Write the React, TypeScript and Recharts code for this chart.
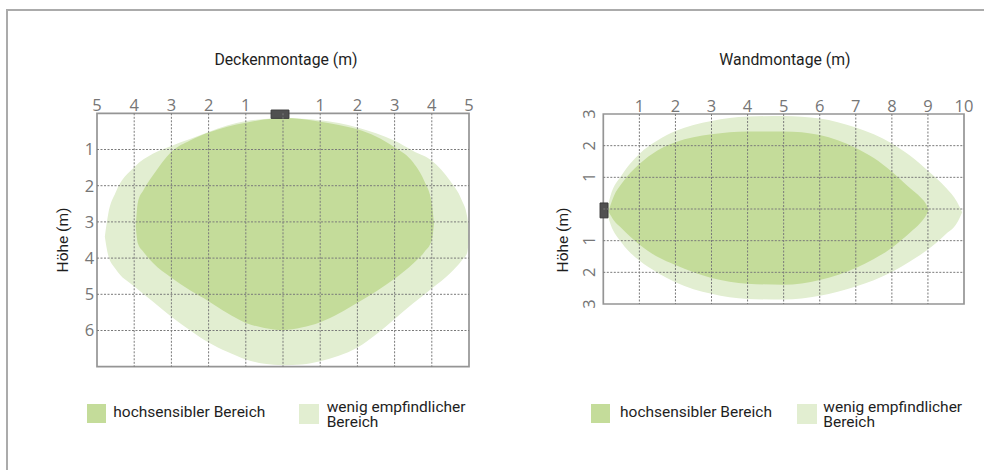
import React from 'react';
import { ComposedChart, Area, XAxis, YAxis, ReferenceLine, ReferenceArea } from 'recharts';

const W = 984;
const H = 470;

// ---------- Deckenmontage (ceiling mount) ----------
const ceilXTicks = [-5, -4, -3, -2, -1, 1, 2, 3, 4, 5];
const ceilYTicks = [1, 2, 3, 4, 5, 6];
const ceilGridX = [-4, -3, -2, -1, 0, 1, 2, 3, 4];
const ceilGridY = [1, 2, 3, 4, 5, 6];

const ceilHighX = [-3.96, -3.9, -3.75, -3.5, -3, -2.5, -2, -1.5, -1, -0.5, 0, 0.5, 1, 1.5, 2, 2.5, 3, 3.5, 3.8, 4.0, 4.06];
const ceilHighTop = [3.13, 2.45, 2.12, 1.72, 1.06, 0.75, 0.53, 0.37, 0.26, 0.17, 0.13, 0.16, 0.23, 0.32, 0.44, 0.64, 0.94, 1.36, 1.88, 2.49, 3.04];
const ceilHighBottom = [3.13, 3.6, 3.83, 4.13, 4.54, 4.89, 5.19, 5.52, 5.79, 5.93, 5.99, 5.92, 5.77, 5.53, 5.23, 4.92, 4.57, 4.15, 3.83, 3.5, 3.04];

const ceilLowX = [-4.79, -4.7, -4.5, -4, -3.5, -3, -2.5, -2, -1.5, -1, -0.5, 0, 0.5, 1, 1.5, 2, 2.5, 3, 3.5, 4, 4.5, 4.8, 4.95, 5.0];
const ceilLowTop = [3.41, 2.79, 2.19, 1.49, 1.12, 0.9, 0.71, 0.52, 0.34, 0.21, 0.16, 0.12, 0.15, 0.19, 0.27, 0.39, 0.55, 0.76, 1.04, 1.31, 1.88, 2.39, 2.85, 3.4];
const ceilLowBottom = [3.41, 3.92, 4.3, 4.78, 5.2, 5.62, 5.99, 6.33, 6.59, 6.8, 6.92, 6.96, 6.94, 6.85, 6.7, 6.47, 6.11, 5.68, 5.25, 4.84, 4.41, 4.07, 3.85, 3.4];

const ceilSensor = [-0.32, 0.16, -0.09, 0.14];

// ---------- Wandmontage (wall mount) ----------
const wallXTicks = [1, 2, 3, 4, 5, 6, 7, 8, 9, 10];
const wallYTicks = [-3, -2, -1, 1, 2, 3];
const wallGridX = [1, 2, 3, 4, 5, 6, 7, 8, 9];
const wallGridY = [-2, -1, 0, 1, 2];

const wallHighX = [0.14, 0.3, 0.5, 1, 1.5, 2, 3, 4, 5, 6, 7, 7.5, 8, 8.5, 8.8, 8.95, 9.02];
const wallHighTop = [-0.08, 0.43, 0.79, 1.42, 1.85, 2.11, 2.36, 2.45, 2.45, 2.34, 1.93, 1.61, 1.18, 0.66, 0.36, 0.15, -0.03];
const wallHighBottom = [-0.08, -0.37, -0.6, -1.12, -1.51, -1.77, -2.18, -2.36, -2.39, -2.24, -1.86, -1.58, -1.22, -0.75, -0.43, -0.2, -0.03];

const wallLowX = [0.09, 0.2, 0.5, 1, 1.5, 2, 3, 4, 5, 6, 7, 8, 8.5, 9, 9.5, 9.8, 9.95];
const wallLowTop = [-0.08, 0.42, 1.05, 1.74, 2.16, 2.46, 2.78, 2.92, 2.94, 2.86, 2.57, 2.07, 1.69, 1.21, 0.67, 0.24, -0.1];
const wallLowBottom = [-0.08, -0.48, -1.05, -1.63, -2.01, -2.31, -2.68, -2.84, -2.86, -2.74, -2.45, -1.99, -1.66, -1.28, -0.79, -0.45, -0.1];

const wallSensor = [-0.09, 0.13, -0.28, 0.19];

// ---------- texts ----------
const panelTitles = ['Deckenmontage (m)', 'Wandmontage (m)'];
const axisTitle = 'Höhe (m)';
const legendLabels = ['hochsensibler Bereich', 'wenig empfindlicher Bereich'];

const HIGH_COLOR = '#c4dc9a';
const LOW_COLOR = '#e2eed1';
const TICK_COLOR = '#767676';
const GRID_COLOR = '#7a7a7a';
const FRAME_COLOR = '#959595';

const toRange = (xs: number[], a: number[], b: number[]) => xs.map((x, i) => ({ x, r: [a[i], b[i]] }));

type Cfg = {
  xDomain: [number, number];
  yDomain: [number, number];
  yReversed: boolean;
  margin: { top: number; left: number; right: number; bottom: number };
  xTicks: number[];
  yTicks: number[];
  gridX: number[];
  gridY: number[];
  high: { x: number; r: number[] }[];
  low: { x: number; r: number[] }[];
  sensor: number[];
  rotateY: boolean;
  yTickMargin: number;
};

const ceilCfg: Cfg = {
  xDomain: [-5, 5],
  yDomain: [0, 7],
  yReversed: true,
  margin: { top: 93.3, left: 67, right: W - 469, bottom: H - 366.7 },
  xTicks: ceilXTicks,
  yTicks: ceilYTicks,
  gridX: ceilGridX,
  gridY: ceilGridY,
  high: toRange(ceilHighX, ceilHighTop, ceilHighBottom),
  low: toRange(ceilLowX, ceilLowTop, ceilLowBottom),
  sensor: ceilSensor,
  rotateY: false,
  yTickMargin: 7.5,
};

const wallCfg: Cfg = {
  xDomain: [0, 10],
  yDomain: [-3, 3],
  yReversed: false,
  margin: { top: 94, left: 573.3, right: W - 964, bottom: H - 304 },
  xTicks: wallXTicks,
  yTicks: wallYTicks,
  gridX: wallGridX,
  gridY: wallGridY,
  high: toRange(wallHighX, wallHighTop, wallHighBottom),
  low: toRange(wallLowX, wallLowTop, wallLowBottom),
  sensor: wallSensor,
  rotateY: true,
  yTickMargin: 8,
};

const tickFont = { fontFamily: 'Open Sans, sans-serif', fontSize: 16.5, fill: TICK_COLOR };

const XTick = (props: any) => {
  const { x, y, payload } = props;
  return (
    <text x={x} y={y} textAnchor="middle" {...tickFont}>
      {Math.abs(payload.value)}
    </text>
  );
};

const YTickPlain = (props: any) => {
  const { x, y, payload } = props;
  return (
    <text x={x} y={y} dy="0.36em" textAnchor="middle" {...tickFont}>
      {Math.abs(payload.value)}
    </text>
  );
};

const YTickRot = (props: any) => {
  const { x, y, payload } = props;
  return (
    <text x={x} y={y} textAnchor="middle" transform={`rotate(-90, ${x}, ${y})`} {...tickFont}>
      {Math.abs(payload.value)}
    </text>
  );
};

function Layer({ cfg, data, showTicks, children }: { cfg: Cfg; data?: any[]; showTicks: boolean; children?: React.ReactNode }) {
  return (
    <div style={{ position: 'absolute', left: 0, top: 0 }}>
      <ComposedChart width={W} height={H} margin={cfg.margin} data={data}>
        <XAxis
          type="number"
          dataKey="x"
          domain={cfg.xDomain}
          allowDataOverflow
          orientation="top"
          ticks={cfg.xTicks}
          interval={0}
          height={20}
          axisLine={false}
          tickLine={false}
          tickSize={0}
          tickMargin={2}
          tick={showTicks ? <XTick /> : false}
        />
        <YAxis
          type="number"
          domain={cfg.yDomain}
          reversed={cfg.yReversed}
          allowDataOverflow
          ticks={cfg.yTicks}
          interval={0}
          width={30}
          axisLine={false}
          tickLine={false}
          tickSize={0}
          tickMargin={cfg.yTickMargin}
          tick={showTicks ? (cfg.rotateY ? <YTickRot /> : <YTickPlain />) : false}
        />
        {children}
      </ComposedChart>
    </div>
  );
}

function Panel({ cfg }: { cfg: Cfg }) {
  const [sx1, sx2, sy1, sy2] = cfg.sensor;
  return (
    <>
      <Layer cfg={cfg} data={cfg.low} showTicks={false}>
        <Area type="monotone" dataKey="r" stroke="none" fill={LOW_COLOR} fillOpacity={1} isAnimationActive={false} dot={false} activeDot={false} />
      </Layer>
      <Layer cfg={cfg} data={cfg.high} showTicks={false}>
        <Area type="monotone" dataKey="r" stroke="none" fill={HIGH_COLOR} fillOpacity={1} isAnimationActive={false} dot={false} activeDot={false} />
      </Layer>
      <Layer cfg={cfg} data={cfg.low} showTicks={true}>
        {cfg.gridX.map((v) => (
          <ReferenceLine key={'gx' + v} x={v} stroke={GRID_COLOR} strokeWidth={1} strokeDasharray="2 1.5" />
        ))}
        {cfg.gridY.map((v) => (
          <ReferenceLine key={'gy' + v} y={v} stroke={GRID_COLOR} strokeWidth={1} strokeDasharray="2 1.5" />
        ))}
        <ReferenceArea
          x1={cfg.xDomain[0]}
          x2={cfg.xDomain[1]}
          y1={cfg.yDomain[0]}
          y2={cfg.yDomain[1]}
          fill="none"
          fillOpacity={0}
          stroke={FRAME_COLOR}
          strokeWidth={1.7}
        />
        <ReferenceArea x1={sx1} x2={sx2} y1={sy1} y2={sy2} fill="#505050" fillOpacity={1} stroke="#3a3a3a" strokeWidth={1} ifOverflow="visible" />
      </Layer>
    </>
  );
}

const textBase: React.CSSProperties = {
  position: 'absolute',
  fontFamily: 'Roboto, sans-serif',
  color: '#1e1e1e',
  whiteSpace: 'nowrap',
};

function Legend({ left1, text1, left2, text2 }: { left1: number; text1: number; left2: number; text2: number }) {
  return (
    <>
      <div style={{ position: 'absolute', left: left1, top: 403.5, width: 19.5, height: 19.5, background: HIGH_COLOR }} />
      <div style={{ ...textBase, left: text1, top: 403, fontSize: 15.5, lineHeight: '18px' }}>{legendLabels[0]}</div>
      <div style={{ position: 'absolute', left: left2, top: 404, width: 19.5, height: 19.5, background: LOW_COLOR }} />
      <div style={{ ...textBase, left: text2, top: 399.5, fontSize: 15.5, lineHeight: '15px', whiteSpace: 'normal', width: 150 }}>
        {legendLabels[1]}
      </div>
    </>
  );
}

export default function App() {
  return (
    <div style={{ position: 'absolute', left: 0, top: 0, width: W, height: H, overflow: 'hidden', background: '#fff' }}>
      <div style={{ position: 'absolute', left: 6, top: 9, width: 1100, height: 600, border: '2px solid #ababab' }} />
      <Panel cfg={ceilCfg} />
      <Panel cfg={wallCfg} />
      <div style={{ ...textBase, left: 186, width: 200, top: 50, textAlign: 'center', fontSize: 15.8 }}>{panelTitles[0]}</div>
      <div style={{ ...textBase, left: 685, width: 200, top: 50, textAlign: 'center', fontSize: 15.8 }}>{panelTitles[1]}</div>
      <div style={{ ...textBase, left: 63, top: 240, fontSize: 15.5, transform: 'translate(-50%, -50%) rotate(-90deg)' }}>{axisTitle}</div>
      <div style={{ ...textBase, left: 563, top: 240, fontSize: 15.5, transform: 'translate(-50%, -50%) rotate(-90deg)' }}>{axisTitle}</div>
      <Legend left1={86.7} text1={113.3} left2={299.3} text2={326.7} />
      <Legend left1={590.7} text1={620} left2={797.3} text2={823.3} />
    </div>
  );
}
